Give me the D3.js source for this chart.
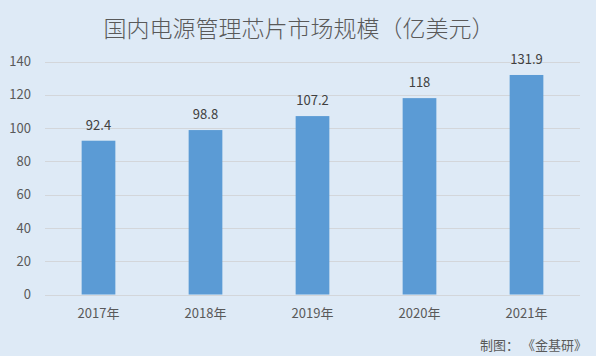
<!DOCTYPE html>
<html><head><meta charset="utf-8">
<script src="https://cdn.jsdelivr.net/npm/d3@7"></script>
<style>
html,body{margin:0;padding:0;background:#deeaf6;}
text{font-family:"Noto Sans CJK SC","Noto Sans",sans-serif;}
</style></head>
<body>
<svg id="c" width="596" height="356"></svg>
<script>
const categories = ["2017年","2018年","2019年","2020年","2021年"];
const values = [92.4, 98.8, 107.2, 118, 131.9];
const yTicks = [0,20,40,60,80,100,120,140];
const title = "国内电源管理芯片市场规模（亿美元）";
const source = "制图： 《金基研》";

const svg = d3.select("#c");
svg.append("rect").attr("width",596).attr("height",356).attr("fill","#deeaf6");

const x = d3.scaleBand().domain(categories).range([45,580]).paddingInner(0.685).paddingOuter(0.3425);
const y = d3.scaleLinear().domain([0,140]).range([294.5,61.5]);

// gridlines
svg.append("g").selectAll("line").data(yTicks).join("line")
  .attr("x1",45).attr("x2",580)
  .attr("y1",d=>Math.round(y(d))+0.5).attr("y2",d=>Math.round(y(d))+0.5)
  .attr("stroke","#d3d6da").attr("stroke-width",1);

// y axis labels
const yAxis = d3.axisLeft(y).tickValues(yTicks).tickSize(0).tickPadding(0);
const gy = svg.append("g").attr("transform","translate(31,0)").call(yAxis);
gy.select(".domain").remove();
gy.selectAll("text").attr("fill","#595959").style("font-size","13px");

// bars
svg.append("g").selectAll("rect").data(values).join("rect")
  .attr("x",(d,i)=>x(categories[i]))
  .attr("width",x.bandwidth())
  .attr("y",d=>y(d))
  .attr("height",d=>y(0)-y(d))
  .attr("fill","#5b9bd5");

// value labels
svg.append("g").selectAll("text").data(values).join("text")
  .attr("x",(d,i)=>x(categories[i])+x.bandwidth()/2)
  .attr("y",d=>y(d)-11)
  .attr("text-anchor","middle")
  .attr("fill","#404040").style("font-size","13px")
  .text(d=>d);

// x axis
const xAxis = d3.axisBottom(x).tickSize(0).tickPadding(0);
const gx = svg.append("g").attr("transform","translate(0,308)").call(xAxis);
gx.select(".domain").remove();
gx.selectAll("text").attr("fill","#595959").style("font-size","13px").attr("dy","0.35em").attr("y",5);

// title
svg.append("text").attr("x",299).attr("y",37).attr("text-anchor","middle")
  .attr("fill","#595959").style("font-size","23px").style("font-weight","300").text(title);

// source
svg.append("text").attr("x",587).attr("y",350).attr("text-anchor","end")
  .attr("fill","#595959").style("font-size","13px").text(source);
</script>
</body></html>
